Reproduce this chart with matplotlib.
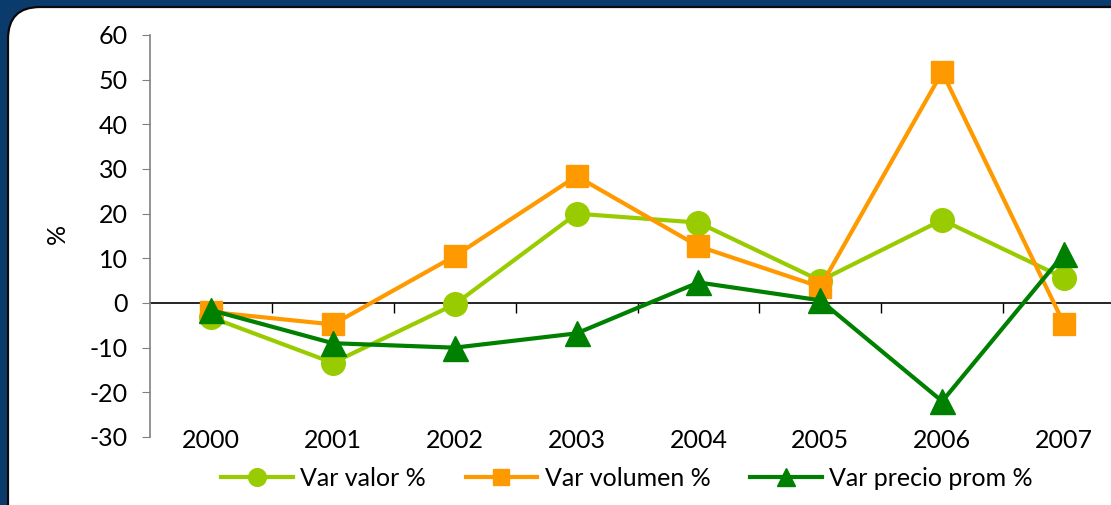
import matplotlib
matplotlib.use("Agg")
import matplotlib.pyplot as plt
from matplotlib.patches import FancyBboxPatch
from matplotlib.transforms import IdentityTransform

years = ["2000", "2001", "2002", "2003", "2004", "2005", "2006", "2007"]
var_valor = [-3.2, -13.4, -0.3, 20.0, 18.0, 5.0, 18.6, 5.6]
var_volumen = [-2.0, -4.8, 10.5, 28.4, 12.7, 3.6, 51.7, -4.7]
var_precio = [-1.6, -9.0, -10.0, -6.8, 4.6, 0.6, -22.0, 11.0]
labels = ["Var valor %", "Var volumen %", "Var precio prom %"]
yticks = list(range(-30, 61, 10))

plt.rcParams['font.family'] = ['Lato', 'DejaVu Sans']

W, H = 1111, 505
fig = plt.figure(figsize=(W / 100, H / 100), dpi=100)
fig.patch.set_facecolor('#0B3A6D')

panel = FancyBboxPatch((8, -60), 1200, 498 + 60, boxstyle="round,pad=0,rounding_size=32",
                       transform=IdentityTransform(), facecolor='white',
                       edgecolor='#0a0a0a', linewidth=1.6, zorder=-5)
fig.patches.append(panel)

ax = fig.add_axes([150 / W, (H - 437) / H, 975 / W, 402 / H])
ax.set_zorder(2)
ax.set_facecolor('none')
x = list(range(len(years)))

ax.plot(x, var_valor, color='#99CC00', lw=3, marker='o', ms=17, mec='#99CC00', zorder=3, label=labels[0])
ax.plot(x, var_volumen, color='#FF9900', lw=3, marker='s', ms=16, mec='#FF9900', zorder=4, label=labels[1])
ax.plot(x, var_precio, color='#008000', lw=3, marker='^', ms=18, mec='#008000', zorder=5, label=labels[2])

ax.set_xlim(-0.5, len(years) - 0.5)
ax.set_ylim(-30, 60)
ax.set_yticks(yticks)
ax.set_yticklabels([str(v) for v in yticks], fontsize=18)
ax.set_xticks(x)
ax.set_xticklabels(years, fontsize=18)
ax.tick_params(axis='x', length=0, pad=-6)
ax.tick_params(axis='y', length=6, direction='out', color='#808080', pad=10)
for s in ['top', 'right', 'bottom']:
    ax.spines[s].set_visible(False)
ax.spines['left'].set_color('#808080')
ax.spines['left'].set_linewidth(1.2)

sec = ax.secondary_xaxis((0 - (-30)) / 90)
sec.set_xticks([i + 0.5 for i in range(len(years))])
sec.set_xticklabels([])
sec.tick_params(length=7, direction='out', color='black', width=1)
sec.spines['bottom'].set_color('black')
sec.spines['bottom'].set_linewidth(1.2)

fig.text(57 / W, (H - 234) / H, "%", rotation=90, fontsize=18, ha='center', va='center')

leg = ax.legend(loc='center', bbox_to_anchor=(627 / W, (H - 478) / H), bbox_transform=fig.transFigure,
                ncol=3, frameon=False, fontsize=18, handlelength=2.85, columnspacing=1.6,
                handletextpad=0.3, markerscale=0.75)

fig.savefig("out.png", dpi=100, facecolor=fig.get_facecolor())
